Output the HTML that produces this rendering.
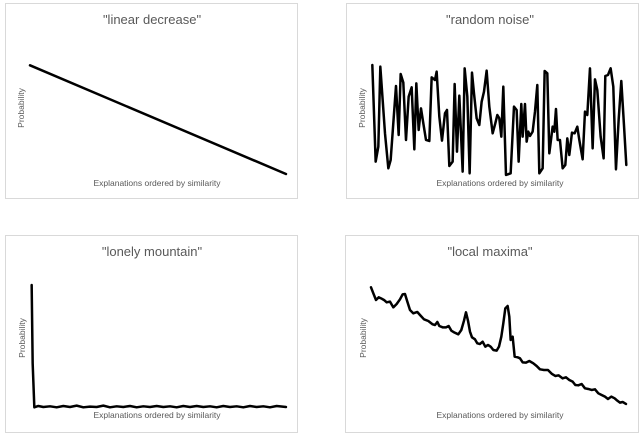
<!DOCTYPE html>
<html><head><meta charset="utf-8"><style>
html,body{margin:0;padding:0;background:#fff;width:640px;height:436px;overflow:hidden}
svg text{font-family:"Liberation Sans",sans-serif;fill:#595959}
</style></head><body>
<svg width="640" height="436" viewBox="0 0 640 436" xmlns="http://www.w3.org/2000/svg">
<g fill="none" stroke="#d9d9d9" stroke-width="1">
<rect x="5.5" y="3.5" width="292" height="195"/>
<rect x="346.5" y="3.5" width="292" height="195"/>
<rect x="5.5" y="235.5" width="292" height="197"/>
<rect x="345.5" y="235.5" width="293" height="197"/>
</g>
<g font-size="13" text-anchor="middle">
<text x="152" y="24">"linear decrease"</text>
<text x="490" y="24">"random noise"</text>
<text x="152" y="256">"lonely mountain"</text>
<text x="490" y="256">"local maxima"</text>
</g>
<g font-size="8.5" text-anchor="middle">
<text x="157" y="186">Explanations ordered by similarity</text>
<text x="500" y="186">Explanations ordered by similarity</text>
<text x="157" y="418">Explanations ordered by similarity</text>
<text x="500" y="418">Explanations ordered by similarity</text>
<text transform="translate(24,108) rotate(-90)">Probability</text>
<text transform="translate(365,108) rotate(-90)">Probability</text>
<text transform="translate(25,338) rotate(-90)">Probability</text>
<text transform="translate(366,338) rotate(-90)">Probability</text>
</g>
<g fill="none" stroke="#000" stroke-width="7.5" stroke-linejoin="round" stroke-linecap="round">
<g transform="scale(0.3333)">
<polyline points="90,196 858,522"/>
</g>
<g transform="translate(0,230) scale(0.3333)">
<polyline points="95,165 98,400 103,532 115,528 130,531 150,529 170,532 190,528 210,531 230,527 250,532 270,530 290,531 310,527 330,532 350,529 370,531 390,528 410,532 430,529 450,531 470,528 490,531 510,529 530,532 550,528 570,531 590,528 610,531 630,529 650,532 670,528 690,531 710,529 730,532 750,528 770,531 790,529 810,532 830,528 858,531"/>
</g>
<g transform="translate(320,0) scale(0.3333)">
<polyline points="157,195 167,485 175,440 181,200 188,300 195,400 205,505 212,480 228,258 236,405 242,222 250,248 258,420 266,290 275,262 283,448 289,250 296,390 303,325 310,370 318,420 328,423 335,232 345,240 350,215 358,350 366,422 375,340 381,330 388,498 398,485 404,252 411,455 418,287 428,515 434,205 442,290 449,520 456,218 462,280 470,355 478,375 485,305 492,275 500,212 508,320 518,400 526,370 532,345 538,355 544,410 550,260 558,525 572,520 582,320 590,330 596,485 604,312 608,410 615,312 620,425 625,395 630,408 638,395 645,335 652,255 658,520 668,505 674,213 682,220 688,460 698,380 703,395 708,327 713,420 720,420 728,505 736,495 742,415 748,465 756,398 764,400 772,380 778,420 788,478 795,335 802,345 810,205 818,445 825,238 832,270 842,410 851,475 856,228 864,225 872,205 880,260 888,508 896,360 904,243 912,375 919,495"/>
</g>
<g transform="translate(320,230) scale(0.3333)">
<polyline points="153,172 160,190 168,210 176,202 185,206 192,210 200,217 210,215 220,232 230,222 240,208 248,193 255,192 262,215 270,240 280,250 292,246 300,255 312,268 325,273 338,283 345,285 352,276 358,288 368,292 378,292 386,288 394,302 404,308 415,313 424,300 432,272 438,247 444,272 450,305 456,322 465,328 472,340 480,342 488,335 496,350 504,345 512,350 520,360 530,362 537,350 544,320 550,280 556,235 563,228 568,260 572,330 578,320 584,380 593,382 600,385 608,397 618,398 628,393 640,400 650,408 660,418 672,420 684,420 696,432 706,438 716,436 728,445 738,442 748,450 758,455 766,465 775,466 785,462 795,475 805,477 815,480 825,478 835,490 845,495 855,500 864,507 874,500 884,505 892,512 900,518 908,516 918,522"/>
</g>
</g>
</svg>
</body></html>
